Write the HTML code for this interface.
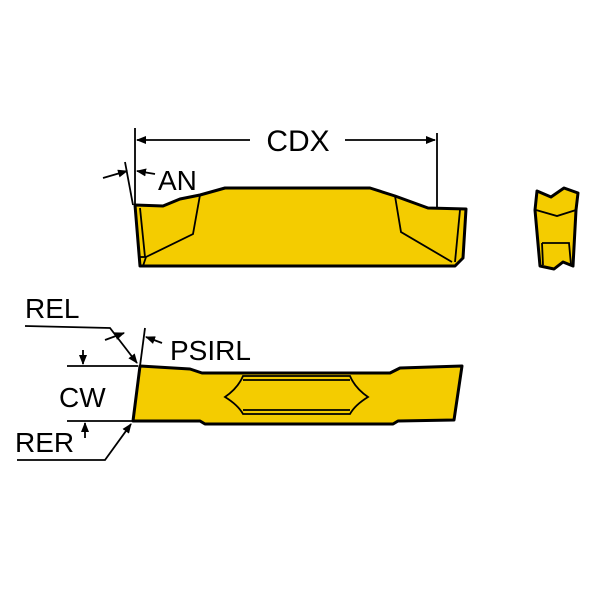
<!DOCTYPE html>
<html><head><style>body{margin:0;background:#fff}svg{display:block}text{font-family:"Liberation Sans",sans-serif;fill:#000}</style></head><body>
<svg width="600" height="600" viewBox="0 0 600 600">
<defs><marker id="a" markerWidth="10" markerHeight="8" refX="9" refY="4" orient="auto" markerUnits="userSpaceOnUse"><path d="M0,0L10,4L0,8z" fill="#000"/></marker></defs>
<g stroke="#000" fill="none" stroke-width="1.8">
<line x1="135" y1="128" x2="135" y2="205"/>
<line x1="437" y1="133" x2="437" y2="208"/>
<line x1="250" y1="140" x2="137" y2="140" marker-end="url(#a)"/>
<line x1="345" y1="140" x2="435" y2="140" marker-end="url(#a)"/>
<line x1="125" y1="162" x2="133" y2="205"/>
<line x1="103" y1="178" x2="127" y2="171" marker-end="url(#a)"/>
<line x1="155" y1="174" x2="137" y2="171" marker-end="url(#a)"/>
</g>
<text x="298" y="151" font-size="30" text-anchor="middle">CDX</text>
<text x="158" y="190" font-size="28">AN</text>
<path d="M135,205L163,206L180,199L200,195L225,188L370,188L395,196L428,208L466,209L463,258L455,266L140,266Z" fill="#f4cc00" stroke="#000" stroke-width="3" stroke-linejoin="round"/>
<g stroke="#000" fill="none" stroke-width="1.8">
<path d="M200,195L193,234L146,257L143,266"/>
<path d="M395,196L401,232L452,262"/>
<path d="M140,208L145,257"/><path d="M460,210L455,262"/>
<line x1="140" y1="257" x2="146" y2="257"/>
</g>
<path d="M537,191L551,197L564,188L578,193L576,210L573,266L563,262L554,269L540,266L535,210Z" fill="#f4cc00" stroke="#000" stroke-width="3" stroke-linejoin="round"/>
<g stroke="#000" fill="none" stroke-width="1.8">
<path d="M536,210L557,216L576,210"/>
<path d="M542,243L569,243L571,265"/><path d="M542,243L543,265"/>
</g>
<path d="M140,366L190,369L202,373L390,373L400,368L462,366L454,420L398,421L393,424L205,424L200,421L133,421Z" fill="#f4cc00" stroke="#000" stroke-width="3" stroke-linejoin="round"/>
<g stroke="#000" fill="none" stroke-width="1.8">
<path d="M243,376L350,376Q355,388 368,397Q355,405 350,414L243,414Q238,405 225,397Q238,388 243,376Z"/>
<line x1="243" y1="380" x2="350" y2="380"/><line x1="243" y1="410" x2="350" y2="410"/>
</g>
<g stroke="#000" fill="none" stroke-width="1.8">
<path d="M25,326L110,328L137,363" marker-end="url(#a)"/>
<line x1="145" y1="328" x2="140" y2="366"/>
<line x1="105" y1="340" x2="124" y2="333" marker-end="url(#a)"/>
<line x1="162" y1="343" x2="146" y2="337" marker-end="url(#a)"/>
<line x1="67" y1="366" x2="138" y2="366"/>
<line x1="67" y1="421" x2="133" y2="421"/>
<line x1="83" y1="350" x2="83" y2="364" marker-end="url(#a)"/>
<line x1="85" y1="438" x2="85" y2="423" marker-end="url(#a)"/>
<path d="M17,460L105,460L131,424" marker-end="url(#a)"/>
</g>
<text x="25" y="318" font-size="28">REL</text>
<text x="170" y="360" font-size="28">PSIRL</text>
<text x="59" y="407" font-size="28">CW</text>
<text x="15" y="452" font-size="28">RER</text>
</svg>
</body></html>
